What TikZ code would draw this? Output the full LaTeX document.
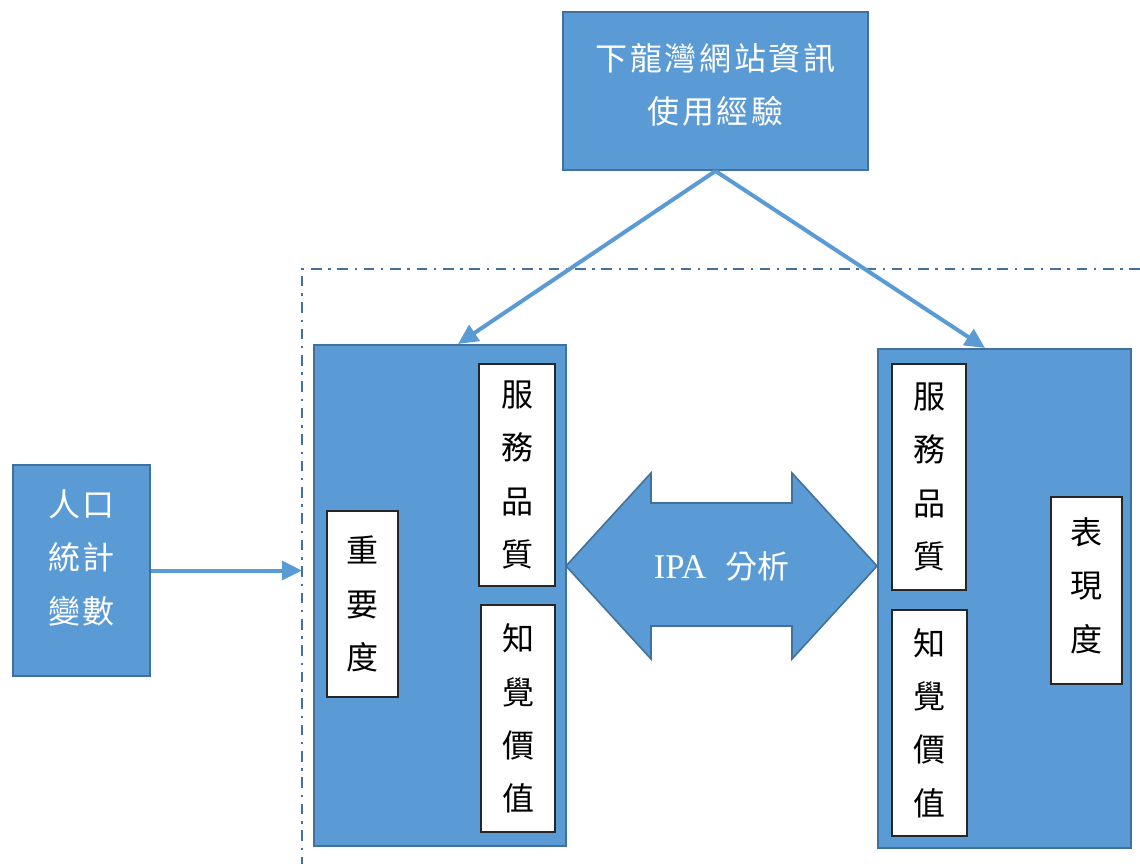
\documentclass[tikz,border=0pt]{standalone}
\usepackage{fontspec}
\setmainfont{Liberation Serif}
\newfontfamily\cjkh[LetterSpace=8]{Noto Sans CJK TC}
\newfontfamily\cjkv{Noto Sans CJK TC}
\usetikzlibrary{arrows.meta,calc}
\definecolor{boxblue}{HTML}{5B9BD5}
\definecolor{boxedge}{HTML}{41719C}
\begin{document}
\begin{tikzpicture}[x=0.75pt,y=-0.75pt,
  bluebox/.style={draw=boxedge, line width=1.5pt, fill=boxblue, text=white,
    font=\cjkh\fontsize{24}{40}\selectfont, align=center, inner sep=0pt},
  whitebox/.style={draw=black!85, line width=0.8pt, fill=white, text=black,
    font=\cjkv\fontsize{24}{40}\selectfont, align=center, inner sep=0pt},
  conn/.style={draw=boxblue, line width=3pt, -{Triangle[length=15pt,width=14pt]}},
  framestyle/.style={draw=boxedge, line width=1.9pt,
    dash pattern=on 8pt off 5pt on 1.8pt off 5pt},
  arrowshape/.style={draw=boxedge, line width=1.2pt, fill=boxblue}]
\useasboundingbox (0,0) rectangle (1140,864);

% frame
\coordinate (fc) at (302,269);
\draw[framestyle] (1140,269) -- (fc) -- (302,864);

% boxes
\node[bluebox, minimum width=228.75pt, minimum height=118.5pt] (top) at (715.5,91)
  {下龍灣網站資訊\\使用經驗\rule[-11pt]{0pt}{0pt}};
\node[bluebox, minimum width=189pt, minimum height=375.75pt] (L) at (440,595.5) {};
\node[bluebox, minimum width=189.75pt, minimum height=374.25pt] (R) at (1004.5,598.5) {};
\node[bluebox, minimum width=102.75pt, minimum height=158.25pt] (pop) at (81.5,570.5)
  {人口\\統計\\變數\rule[-21pt]{0pt}{0pt}};

\node[whitebox, minimum width=57pt, minimum height=166.5pt] (lsq) at (517,475) {服\\務\\品\\質};
\node[whitebox, minimum width=55.5pt, minimum height=170.25pt] (lpv) at (518,718.5) {知\\覺\\價\\值};
\node[whitebox, minimum width=53.25pt, minimum height=139.5pt] (limp) at (362.5,604) {重\\要\\度};
\node[whitebox, minimum width=55.5pt, minimum height=169.5pt] (rsq) at (929,477) {服\\務\\品\\質};
\node[whitebox, minimum width=56.25pt, minimum height=169.5pt] (rpv) at (929.5,723) {知\\覺\\價\\值};
\node[whitebox, minimum width=53.25pt, minimum height=140.25pt] (rperf) at (1086.5,590.5)
  {表\\現\\度\rule[-9pt]{0pt}{0pt}};

% connectors
\draw[conn] (top.south) -- ([xshift=13.5pt]L.north);
\draw[conn] (top.south) -- ([xshift=-14.6pt]R.north);
\draw[conn] (pop.east) -- (pop.east -| fc);

% double arrow
\coordinate (ipa) at (721.5,566);
\draw[arrowshape] ($(ipa)+(-155.5,0)$) -- ++(85,-93) -- ++(0,30) -- ++(141,0)
  -- ++(0,-30) -- ++(85,93) -- ++(-85,93) -- ++(0,-33) -- ++(-141,0)
  -- ++(0,33) -- cycle;
\node[text=white, inner sep=0pt] (ipatext) at (ipa)
  {\fontsize{26}{30}\selectfont IPA\hspace{14pt}{\cjkv\fontsize{24}{25}\selectfont 分析}};
\end{tikzpicture}
\end{document}
